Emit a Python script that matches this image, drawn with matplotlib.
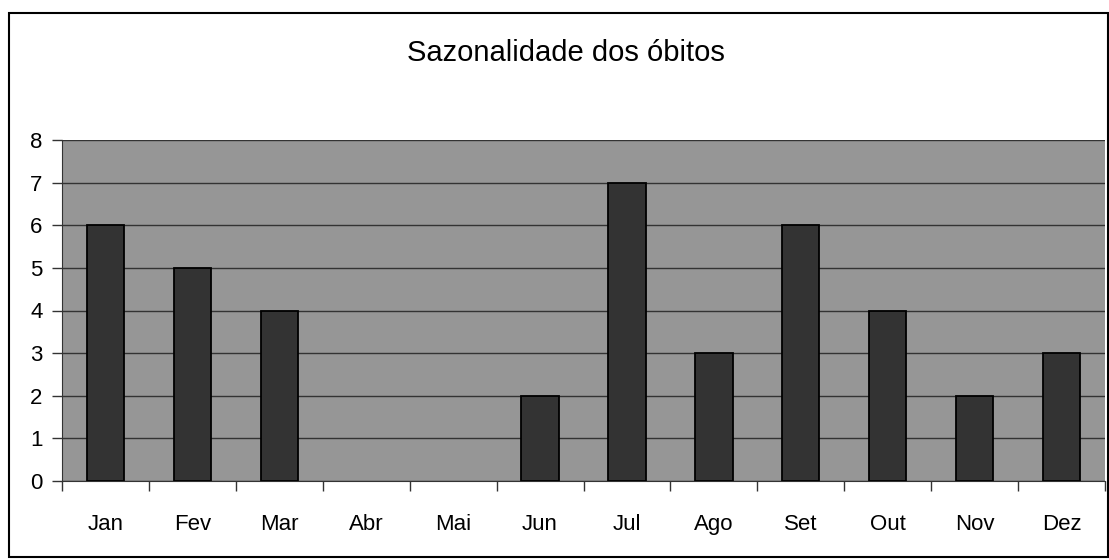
import matplotlib
matplotlib.use('Agg')
import matplotlib.pyplot as plt
from matplotlib.patches import Rectangle
import numpy as np

# Data

meses = ['Jan', 'Fev', 'Mar', 'Abr', 'Mai', 'Jun', 'Jul', 'Ago', 'Set', 'Out', 'Nov', 'Dez']
obitos = [6, 5, 4, 0, 0, 2, 7, 3, 6, 4, 2, 3]

plt.rcParams['font.family'] = ['Liberation Sans', 'DejaVu Sans']

fig = plt.figure(figsize=(11.09, 5.6), dpi=100)
W, H = 1109, 560

# Outer chart border
fig.patches.append(Rectangle((9 / W, 1 - 557 / H), (1108 - 9) / W, (557 - 13) / H,
                             transform=fig.transFigure, fill=False,
                             edgecolor='black', linewidth=1.5))

ax = fig.add_axes([62 / W, 1 - 481 / H, (1105 - 62) / W, (481 - 140) / H])
ax.set_facecolor('#969696')

x = np.arange(len(meses))
# zero-height bars leave no mark in the reference
edges = ['black' if v > 0 else 'none' for v in obitos]
ax.bar(x, obitos, width=0.43, color='#333333', edgecolor=edges, linewidth=1.3, zorder=3)

ax.set_xlim(-0.5, len(meses) - 0.5)
ax.set_ylim(0, 8)
ax.set_yticks(range(0, 9))
ax.yaxis.grid(True, color='#333333', linewidth=1, zorder=1)
ax.set_axisbelow(True)

ax.set_xticks(x)
ax.set_xticklabels(meses)
ax.set_xticks(np.arange(-0.5, len(meses)), minor=True)
ax.tick_params(axis='x', which='major', length=0, pad=24, labelsize=16)
ax.tick_params(axis='x', which='minor', length=7, width=1, color='#333333')
ax.tick_params(axis='y', length=7, width=1, color='#333333', labelsize=16, pad=7)

for s in ['top', 'right']:
    ax.spines[s].set_visible(False)
ax.spines['left'].set_color('#333333')
ax.spines['bottom'].set_color('#333333')

fig.text(566 / W, 1 - 53 / H, 'Sazonalidade dos óbitos', ha='center', va='center', fontsize=21)

fig.savefig('out.png', dpi=100)
